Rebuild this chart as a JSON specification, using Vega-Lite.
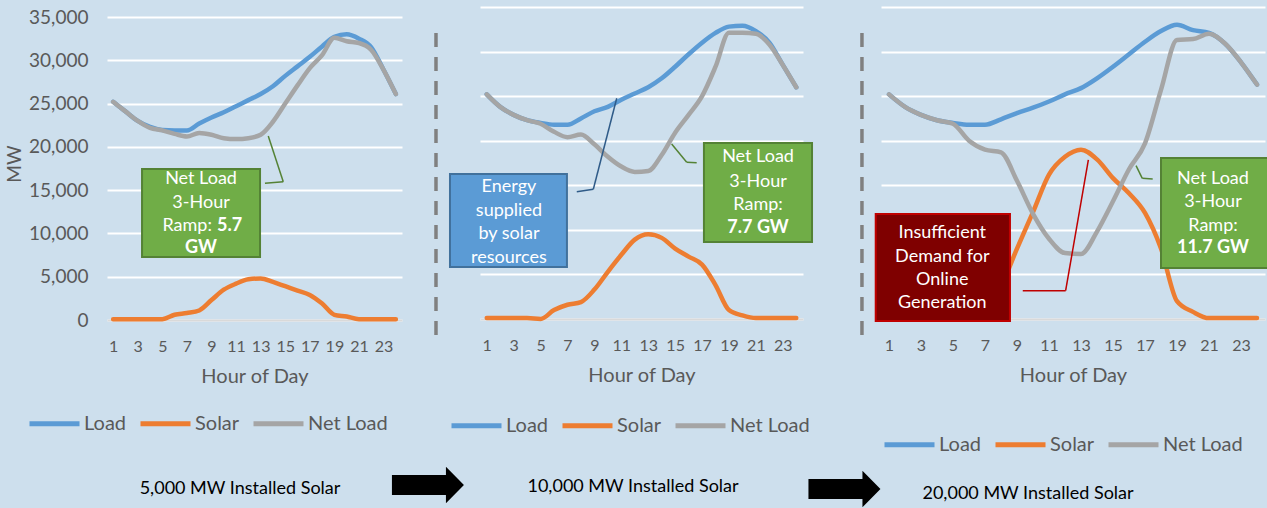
{
  "$schema": "https://vega.github.io/schema/vega-lite/v6.json",
  "background": "#cddfed",
  "padding": {"left": 5, "top": 7, "right": 0, "bottom": 0},
  "config": {
    "view": {"stroke": null},
    "font": "Lato",
    "numberFormat": ",",
    "axis": {"labelFont": "Lato", "titleFont": "Lato", "labelOverlap": false, "labelFlush": false},
    "legend": {"labelFont": "Lato"},
    "text": {"font": "Lato"}
  },
  "spacing": 78,
  "bounds": "flush",
  "resolve": {"scale": {"color": "independent"}, "legend": {"color": "independent"}},
  "datasets": {
    "p1": [
      {"hour": 1, "Load": 25200, "Solar": 100, "Net Load": 25200},
      {"hour": 2, "Load": 24100, "Solar": 100, "Net Load": 24100},
      {"hour": 3, "Load": 23000, "Solar": 100, "Net Load": 23000},
      {"hour": 4, "Load": 22300, "Solar": 100, "Net Load": 22200},
      {"hour": 5, "Load": 21950, "Solar": 100, "Net Load": 21900},
      {"hour": 6, "Load": 21900, "Solar": 600, "Net Load": 21500},
      {"hour": 7, "Load": 21900, "Solar": 800, "Net Load": 21200},
      {"hour": 8, "Load": 22700, "Solar": 1100, "Net Load": 21600},
      {"hour": 9, "Load": 23400, "Solar": 2300, "Net Load": 21400},
      {"hour": 10, "Load": 24000, "Solar": 3500, "Net Load": 21000},
      {"hour": 11, "Load": 24700, "Solar": 4200, "Net Load": 20900},
      {"hour": 12, "Load": 25400, "Solar": 4700, "Net Load": 21000},
      {"hour": 13, "Load": 26100, "Solar": 4800, "Net Load": 21400},
      {"hour": 14, "Load": 27000, "Solar": 4400, "Net Load": 22900},
      {"hour": 15, "Load": 28200, "Solar": 3900, "Net Load": 25000},
      {"hour": 16, "Load": 29300, "Solar": 3400, "Net Load": 27100},
      {"hour": 17, "Load": 30400, "Solar": 2900, "Net Load": 29100},
      {"hour": 18, "Load": 31600, "Solar": 1900, "Net Load": 30600},
      {"hour": 19, "Load": 32700, "Solar": 600, "Net Load": 32600},
      {"hour": 20, "Load": 33000, "Solar": 400, "Net Load": 32200},
      {"hour": 21, "Load": 32500, "Solar": 100, "Net Load": 32000},
      {"hour": 22, "Load": 31500, "Solar": 100, "Net Load": 31200},
      {"hour": 23, "Load": 28900, "Solar": 100, "Net Load": 28900},
      {"hour": 24, "Load": 26100, "Solar": 100, "Net Load": 26100}
    ],
    "p2": [
      {"hour": 1, "Load": 25200, "Solar": 100, "Net Load": 25200},
      {"hour": 2, "Load": 23800, "Solar": 100, "Net Load": 23800},
      {"hour": 3, "Load": 22900, "Solar": 100, "Net Load": 22900},
      {"hour": 4, "Load": 22300, "Solar": 100, "Net Load": 22300},
      {"hour": 5, "Load": 22000, "Solar": 0, "Net Load": 21900},
      {"hour": 6, "Load": 21800, "Solar": 1000, "Net Load": 21000},
      {"hour": 7, "Load": 21800, "Solar": 1600, "Net Load": 20400},
      {"hour": 8, "Load": 22500, "Solar": 1900, "Net Load": 20700},
      {"hour": 9, "Load": 23300, "Solar": 3300, "Net Load": 19600},
      {"hour": 10, "Load": 23800, "Solar": 5300, "Net Load": 18200},
      {"hour": 11, "Load": 24600, "Solar": 7200, "Net Load": 17100},
      {"hour": 12, "Load": 25300, "Solar": 8900, "Net Load": 16500},
      {"hour": 13, "Load": 26000, "Solar": 9500, "Net Load": 16600},
      {"hour": 14, "Load": 27000, "Solar": 9100, "Net Load": 18400},
      {"hour": 15, "Load": 28300, "Solar": 7900, "Net Load": 20900},
      {"hour": 16, "Load": 29700, "Solar": 7000, "Net Load": 22900},
      {"hour": 17, "Load": 31000, "Solar": 6100, "Net Load": 25000},
      {"hour": 18, "Load": 32100, "Solar": 3800, "Net Load": 28300},
      {"hour": 19, "Load": 32800, "Solar": 1000, "Net Load": 32100},
      {"hour": 20, "Load": 32900, "Solar": 400, "Net Load": 32100},
      {"hour": 21, "Load": 32300, "Solar": 100, "Net Load": 32000},
      {"hour": 22, "Load": 31000, "Solar": 100, "Net Load": 30800},
      {"hour": 23, "Load": 28500, "Solar": 100, "Net Load": 28500},
      {"hour": 24, "Load": 26000, "Solar": 100, "Net Load": 26000}
    ],
    "p3": [
      {"hour": 1, "Load": 25200, "Solar": 0, "Net Load": 25200},
      {"hour": 2, "Load": 23800, "Solar": 0, "Net Load": 23800},
      {"hour": 3, "Load": 22900, "Solar": 0, "Net Load": 22900},
      {"hour": 4, "Load": 22300, "Solar": 0, "Net Load": 22300},
      {"hour": 5, "Load": 22000, "Solar": 0, "Net Load": 21900},
      {"hour": 6, "Load": 21800, "Solar": 1200, "Net Load": 20000},
      {"hour": 7, "Load": 21800, "Solar": 2400, "Net Load": 19000},
      {"hour": 8, "Load": 22400, "Solar": 3800, "Net Load": 18700},
      {"hour": 9, "Load": 23100, "Solar": 7900, "Net Load": 15500},
      {"hour": 10, "Load": 23700, "Solar": 12000, "Net Load": 11800},
      {"hour": 11, "Load": 24400, "Solar": 16200, "Net Load": 9000},
      {"hour": 12, "Load": 25200, "Solar": 18200, "Net Load": 7400},
      {"hour": 13, "Load": 25900, "Solar": 19000, "Net Load": 7300},
      {"hour": 14, "Load": 27000, "Solar": 17900, "Net Load": 9800},
      {"hour": 15, "Load": 28300, "Solar": 15800, "Net Load": 13200},
      {"hour": 16, "Load": 29700, "Solar": 14100, "Net Load": 16800},
      {"hour": 17, "Load": 31100, "Solar": 11900, "Net Load": 19700},
      {"hour": 18, "Load": 32300, "Solar": 7900, "Net Load": 25700},
      {"hour": 19, "Load": 33000, "Solar": 2000, "Net Load": 31300},
      {"hour": 20, "Load": 32400, "Solar": 800, "Net Load": 31400},
      {"hour": 21, "Load": 32100, "Solar": 100, "Net Load": 32000},
      {"hour": 22, "Load": 30900, "Solar": 100, "Net Load": 30900},
      {"hour": 23, "Load": 28800, "Solar": 100, "Net Load": 28800},
      {"hour": 24, "Load": 26300, "Solar": 100, "Net Load": 26300}
    ]
  },
  "hconcat": [
    {
      "width": 295,
      "height": 313,
      "layer": [
        {
          "data": {"name": "p1"},
          "transform": [{"fold": ["Load", "Solar", "Net Load"], "as": ["series", "mw"]}],
          "mark": {"type": "line", "strokeWidth": 4.5, "interpolate": "monotone", "strokeCap": "round", "strokeJoin": "round"},
          "encoding": {
            "x": {"field": "hour", "type": "quantitative", "scale": {"domain": [0.5, 24.5], "nice": false, "zero": false},
              "axis": {"values": [1, 3, 5, 7, 9, 11, 13, 15, 17, 19, 21, 23], "tickCount": 30, "grid": false, "ticks": false, "domain": true, "domainColor": "#d9d9d9", "domainWidth": 2, "labelFontSize": 16, "labelColor": "#595959", "labelPadding": 18, "labelOverlap": false, "labelFlush": false, "title": "Hour of Day", "titleFontSize": 20, "titleFontWeight": "normal", "titleColor": "#595959", "titlePadding": 12}},
            "y": {"field": "mw", "type": "quantitative", "scale": {"domain": [0, 36156], "nice": false},
              "axis": {"values": [0, 5000, 10000, 15000, 20000, 25000, 30000, 35000], "tickCount": 20, "labelExpr": "format(datum.value, ',')", "grid": true, "gridColor": "white", "gridWidth": 2, "ticks": false, "domain": false, "labelFontSize": 19, "labelColor": "#595959", "labelPadding": 19, "labelFlush": false, "title": "MW", "titleFontSize": 19, "titleFontWeight": "normal", "titleColor": "#595959", "titlePadding": 4}},
            "color": {"field": "series", "type": "nominal", "scale": {"domain": ["Load", "Solar", "Net Load"], "range": ["#5b9bd5", "#ed7d31", "#a5a5a5"]},
              "legend": {"orient": "none", "legendX": -80, "legendY": 389, "direction": "horizontal", "title": null, "symbolType": "stroke", "symbolSize": 2500, "symbolStrokeWidth": 5, "labelFontSize": 20, "labelColor": "#595959", "labelOffset": 2, "columnPadding": 3, "padding": 0}}
          }
        },
        {"data": {"values": [{}]}, "mark": {"type": "rect", "fill": "#70ad47", "stroke": "#548235", "strokeWidth": 2},
          "encoding": {"x": {"datum": 3.35}, "x2": {"datum": 12.95}, "y": {"datum": 17440}, "y2": {"datum": 7280}}},
        {"data": {"values": [{}]}, "mark": {"type": "text", "color": "white", "fontSize": 18, "baseline": "middle", "align": "center", "text": "Net Load"},
          "encoding": {"x": {"datum": 8.15}, "y": {"datum": 16290}}},
        {"data": {"values": [{}]}, "mark": {"type": "text", "color": "white", "fontSize": 18, "baseline": "middle", "align": "center", "text": "3-Hour"},
          "encoding": {"x": {"datum": 8.15}, "y": {"datum": 13520}}},
        {"data": {"values": [{}]}, "mark": {"type": "text", "color": "white", "fontSize": 18, "baseline": "middle", "align": "right", "dx": -2, "text": "Ramp:"},
          "encoding": {"x": {"datum": 9.2}, "y": {"datum": 10860}}},
        {"data": {"values": [{}]}, "mark": {"type": "text", "color": "white", "fontSize": 18, "fontWeight": "bold", "baseline": "middle", "align": "left", "dx": 3, "text": "5.7"},
          "encoding": {"x": {"datum": 9.2}, "y": {"datum": 10860}}},
        {"data": {"values": [{}]}, "mark": {"type": "text", "color": "white", "fontSize": 18, "fontWeight": "bold", "baseline": "middle", "align": "center", "text": "GW"},
          "encoding": {"x": {"datum": 8.15}, "y": {"datum": 8320}}},
        {"data": {"values": [{}]}, "mark": {"type": "rule", "color": "#548235", "strokeWidth": 1.5},
          "encoding": {"x": {"datum": 13.35}, "y": {"datum": 15790}, "x2": {"datum": 14.84}, "y2": {"datum": 15980}}},
        {"data": {"values": [{}]}, "mark": {"type": "rule", "color": "#548235", "strokeWidth": 1.5},
          "encoding": {"x": {"datum": 14.84}, "y": {"datum": 15980}, "x2": {"datum": 13.62}, "y2": {"datum": 21250}}},
        {"data": {"values": [{}]}, "mark": {"type": "text", "color": "black", "fontSize": 18, "baseline": "middle", "align": "center", "text": "5,000 MW Installed Solar"},
          "encoding": {"x": {"datum": 11.32}, "y": {"datum": -19520}}},
        {"data": {"values": [{}]}, "mark": {"type": "point", "shape": "M-1,-0.28L0.5,-0.28L0.5,-0.51L1,0L0.5,0.51L0.5,0.28L-1,0.28Z", "filled": true, "color": "black", "opacity": 1, "size": 5184, "strokeWidth": 0},
          "encoding": {"x": {"datum": 26.61}, "y": {"datum": -19060}}}
      ]
    },
    {
      "width": 323,
      "height": 312,
      "layer": [
        {
          "data": {"name": "p2"},
          "transform": [{"fold": ["Load", "Solar", "Net Load"], "as": ["series", "mw"]}],
          "mark": {"type": "line", "strokeWidth": 4.5, "interpolate": "monotone", "strokeCap": "round", "strokeJoin": "round"},
          "encoding": {
            "x": {"field": "hour", "type": "quantitative", "scale": {"domain": [0.5, 24.5], "nice": false, "zero": false},
              "axis": {"values": [1, 3, 5, 7, 9, 11, 13, 15, 17, 19, 21, 23], "tickCount": 30, "grid": false, "ticks": false, "domain": true, "domainColor": "#d9d9d9", "domainWidth": 2, "labelFontSize": 16, "labelColor": "#595959", "labelPadding": 18, "labelOverlap": false, "labelFlush": false, "title": "Hour of Day", "titleFontSize": 20, "titleFontWeight": "normal", "titleColor": "#595959", "titlePadding": 12}},
            "y": {"field": "mw", "type": "quantitative", "scale": {"domain": [0, 35000], "nice": false},
              "axis": {"values": [0, 5000, 10000, 15000, 20000, 25000, 30000, 35000], "tickCount": 20, "grid": true, "gridColor": "white", "gridWidth": 2, "ticks": false, "domain": false, "labels": false, "title": null}},
            "color": {"field": "series", "type": "nominal", "scale": {"domain": ["Load", "Solar", "Net Load"], "range": ["#5b9bd5", "#ed7d31", "#a5a5a5"]},
              "legend": {"orient": "none", "legendX": -31, "legendY": 391, "direction": "horizontal", "title": null, "symbolType": "stroke", "symbolSize": 2500, "symbolStrokeWidth": 5, "labelFontSize": 20, "labelColor": "#595959", "labelOffset": 2, "columnPadding": 3, "padding": 0}}
          }
        },
        {"data": {"values": [{}]}, "mark": {"type": "rule", "color": "#808080", "strokeWidth": 3.5, "strokeDash": [14, 10]},
          "encoding": {"x": {"datum": -2.77}, "y": {"datum": 32080}, "y2": {"datum": -2580}}},
        {"data": {"values": [{}]}, "mark": {"type": "rect", "fill": "#5b9bd5", "stroke": "#41719c", "strokeWidth": 2},
          "encoding": {"x": {"datum": -1.73}, "x2": {"datum": 6.96}, "y": {"datum": 16270}, "y2": {"datum": 5830}}},
        {"data": {"values": [{}]}, "mark": {"type": "text", "color": "white", "fontSize": 18, "baseline": "middle", "align": "center", "text": "Energy"},
          "encoding": {"x": {"datum": 2.65}, "y": {"datum": 14810}}},
        {"data": {"values": [{}]}, "mark": {"type": "text", "color": "white", "fontSize": 18, "baseline": "middle", "align": "center", "text": "supplied"},
          "encoding": {"x": {"datum": 2.65}, "y": {"datum": 12120}}},
        {"data": {"values": [{}]}, "mark": {"type": "text", "color": "white", "fontSize": 18, "baseline": "middle", "align": "center", "text": "by solar"},
          "encoding": {"x": {"datum": 2.65}, "y": {"datum": 9540}}},
        {"data": {"values": [{}]}, "mark": {"type": "text", "color": "white", "fontSize": 18, "baseline": "middle", "align": "center", "text": "resources"},
          "encoding": {"x": {"datum": 2.65}, "y": {"datum": 6840}}},
        {"data": {"values": [{}]}, "mark": {"type": "rect", "fill": "#70ad47", "stroke": "#548235", "strokeWidth": 2},
          "encoding": {"x": {"datum": 17.14}, "x2": {"datum": 25.17}, "y": {"datum": 19740}, "y2": {"datum": 8640}}},
        {"data": {"values": [{}]}, "mark": {"type": "text", "color": "white", "fontSize": 18, "baseline": "middle", "align": "center", "text": "Net Load"},
          "encoding": {"x": {"datum": 21.16}, "y": {"datum": 18170}}},
        {"data": {"values": [{}]}, "mark": {"type": "text", "color": "white", "fontSize": 18, "baseline": "middle", "align": "center", "text": "3-Hour"},
          "encoding": {"x": {"datum": 21.16}, "y": {"datum": 15370}}},
        {"data": {"values": [{}]}, "mark": {"type": "text", "color": "white", "fontSize": 18, "baseline": "middle", "align": "center", "text": "Ramp:"},
          "encoding": {"x": {"datum": 21.16}, "y": {"datum": 12790}}},
        {"data": {"values": [{}]}, "mark": {"type": "text", "color": "white", "fontSize": 18, "fontWeight": "bold", "baseline": "middle", "align": "center", "text": "7.7 GW"},
          "encoding": {"x": {"datum": 21.16}, "y": {"datum": 10210}}},
        {"data": {"values": [{}]}, "mark": {"type": "rule", "color": "#2f5b88", "strokeWidth": 1.5},
          "encoding": {"x": {"datum": 7.69}, "y": {"datum": 14280}, "x2": {"datum": 8.92}, "y2": {"datum": 14550}}},
        {"data": {"values": [{}]}, "mark": {"type": "rule", "color": "#2f5b88", "strokeWidth": 1.5},
          "encoding": {"x": {"datum": 8.92}, "y": {"datum": 14550}, "x2": {"datum": 10.66}, "y2": {"datum": 24760}}},
        {"data": {"values": [{}]}, "mark": {"type": "rule", "color": "#548235", "strokeWidth": 1.5},
          "encoding": {"x": {"datum": 14.74}, "y": {"datum": 19630}, "x2": {"datum": 15.86}, "y2": {"datum": 17580}}},
        {"data": {"values": [{}]}, "mark": {"type": "rule", "color": "#548235", "strokeWidth": 1.5},
          "encoding": {"x": {"datum": 15.86}, "y": {"datum": 17580}, "x2": {"datum": 16.6}, "y2": {"datum": 17530}}},
        {"data": {"values": [{}]}, "mark": {"type": "text", "color": "black", "fontSize": 18, "baseline": "middle", "align": "center", "text": "10,000 MW Installed Solar"},
          "encoding": {"x": {"datum": 11.87}, "y": {"datum": -18850}}},
        {"data": {"values": [{}]}, "mark": {"type": "point", "shape": "M-1,-0.28L0.5,-0.28L0.5,-0.51L1,0L0.5,0.51L0.5,0.28L-1,0.28Z", "filled": true, "color": "black", "opacity": 1, "size": 5184, "strokeWidth": 0},
          "encoding": {"x": {"datum": 27.58}, "y": {"datum": -19070}}}
      ]
    },
    {
      "width": 384,
      "height": 312,
      "layer": [
        {
          "data": {"name": "p3"},
          "transform": [{"fold": ["Load", "Solar", "Net Load"], "as": ["series", "mw"]}],
          "mark": {"type": "line", "strokeWidth": 4.5, "interpolate": "monotone", "strokeCap": "round", "strokeJoin": "round"},
          "encoding": {
            "x": {"field": "hour", "type": "quantitative", "scale": {"domain": [0.5, 24.5], "nice": false, "zero": false},
              "axis": {"values": [1, 3, 5, 7, 9, 11, 13, 15, 17, 19, 21, 23], "tickCount": 30, "grid": false, "ticks": false, "domain": true, "domainColor": "#d9d9d9", "domainWidth": 2, "labelFontSize": 16, "labelColor": "#595959", "labelPadding": 18, "labelOverlap": false, "labelFlush": false, "title": "Hour of Day", "titleFontSize": 20, "titleFontWeight": "normal", "titleColor": "#595959", "titlePadding": 12}},
            "y": {"field": "mw", "type": "quantitative", "scale": {"domain": [0, 35000], "nice": false},
              "axis": {"values": [0, 5000, 10000, 15000, 20000, 25000, 30000, 35000], "tickCount": 20, "grid": true, "gridColor": "white", "gridWidth": 2, "ticks": false, "domain": false, "labels": false, "title": null}},
            "color": {"field": "series", "type": "nominal", "scale": {"domain": ["Load", "Solar", "Net Load"], "range": ["#5b9bd5", "#ed7d31", "#a5a5a5"]},
              "legend": {"orient": "none", "legendX": 1, "legendY": 410, "direction": "horizontal", "title": null, "symbolType": "stroke", "symbolSize": 2500, "symbolStrokeWidth": 5, "labelFontSize": 20, "labelColor": "#595959", "labelOffset": 2, "columnPadding": 3, "padding": 0}}
          }
        },
        {"data": {"values": [{}]}, "mark": {"type": "rule", "color": "#808080", "strokeWidth": 3.5, "strokeDash": [14, 10]},
          "encoding": {"x": {"datum": -0.69}, "y": {"datum": 32080}, "y2": {"datum": -2580}}},
        {"data": {"values": [{}]}, "mark": {"type": "rect", "fill": "#7f0000", "stroke": "#c00000", "strokeWidth": 2},
          "encoding": {"x": {"datum": 0.17}, "x2": {"datum": 8.56}, "y": {"datum": 11780}, "y2": {"datum": -220}}},
        {"data": {"values": [{}]}, "mark": {"type": "text", "color": "white", "fontSize": 18, "baseline": "middle", "align": "center", "text": "Insufficient"},
          "encoding": {"x": {"datum": 4.33}, "y": {"datum": 9650}}},
        {"data": {"values": [{}]}, "mark": {"type": "text", "color": "white", "fontSize": 18, "baseline": "middle", "align": "center", "text": "Demand for"},
          "encoding": {"x": {"datum": 4.33}, "y": {"datum": 6960}}},
        {"data": {"values": [{}]}, "mark": {"type": "text", "color": "white", "fontSize": 18, "baseline": "middle", "align": "center", "text": "Online"},
          "encoding": {"x": {"datum": 4.33}, "y": {"datum": 4380}}},
        {"data": {"values": [{}]}, "mark": {"type": "text", "color": "white", "fontSize": 18, "baseline": "middle", "align": "center", "text": "Generation"},
          "encoding": {"x": {"datum": 4.33}, "y": {"datum": 1790}}},
        {"data": {"values": [{}]}, "mark": {"type": "rect", "fill": "#70ad47", "stroke": "#548235", "strokeWidth": 2},
          "encoding": {"x": {"datum": 18.0}, "x2": {"datum": 24.75}, "y": {"datum": 18060}, "y2": {"datum": 5720}}},
        {"data": {"values": [{}]}, "mark": {"type": "text", "color": "white", "fontSize": 18, "baseline": "middle", "align": "center", "text": "Net Load"},
          "encoding": {"x": {"datum": 21.25}, "y": {"datum": 15710}}},
        {"data": {"values": [{}]}, "mark": {"type": "text", "color": "white", "fontSize": 18, "baseline": "middle", "align": "center", "text": "3-Hour"},
          "encoding": {"x": {"datum": 21.25}, "y": {"datum": 13130}}},
        {"data": {"values": [{}]}, "mark": {"type": "text", "color": "white", "fontSize": 18, "baseline": "middle", "align": "center", "text": "Ramp:"},
          "encoding": {"x": {"datum": 21.25}, "y": {"datum": 10430}}},
        {"data": {"values": [{}]}, "mark": {"type": "text", "color": "white", "fontSize": 18, "fontWeight": "bold", "baseline": "middle", "align": "center", "text": "11.7 GW"},
          "encoding": {"x": {"datum": 21.25}, "y": {"datum": 7970}}},
        {"data": {"values": [{}]}, "mark": {"type": "rule", "color": "#c00000", "strokeWidth": 1.5},
          "encoding": {"x": {"datum": 9.36}, "y": {"datum": 3170}, "x2": {"datum": 12.04}, "y2": {"datum": 3170}}},
        {"data": {"values": [{}]}, "mark": {"type": "rule", "color": "#c00000", "strokeWidth": 1.5},
          "encoding": {"x": {"datum": 12.04}, "y": {"datum": 3170}, "x2": {"datum": 13.46}, "y2": {"datum": 17840}}},
        {"data": {"values": [{}]}, "mark": {"type": "rule", "color": "#548235", "strokeWidth": 1.5},
          "encoding": {"x": {"datum": 16.44}, "y": {"datum": 17200}, "x2": {"datum": 16.83}, "y2": {"datum": 15780}}},
        {"data": {"values": [{}]}, "mark": {"type": "rule", "color": "#548235", "strokeWidth": 1.5},
          "encoding": {"x": {"datum": 16.83}, "y": {"datum": 15780}, "x2": {"datum": 17.48}, "y2": {"datum": 15710}}},
        {"data": {"values": [{}]}, "mark": {"type": "text", "color": "black", "fontSize": 18, "baseline": "middle", "align": "center", "text": "20,000 MW Installed Solar"},
          "encoding": {"x": {"datum": 9.69}, "y": {"datum": -19630}}}
      ]
    }
  ]
}
